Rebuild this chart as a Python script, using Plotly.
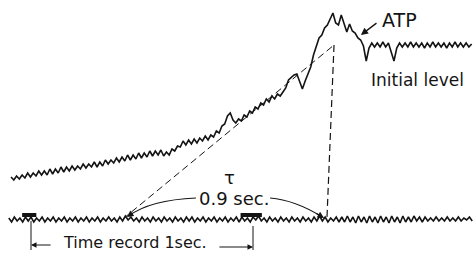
import numpy as np
import plotly.graph_objects as go

# ---- data (time in seconds, signal in arbitrary units) ----
DT = 0.0125
UPPER_T0 = -0.09
upper_signal = [
    82, 79, 83, 80, 84, 81, 86, 82, 86, 83,
    88, 84, 88, 84, 90, 85, 90, 86, 92, 87,
    92, 88, 93, 89, 93, 90, 95, 91, 95, 92,
    97, 92, 97, 93, 99, 95, 99, 96, 101, 97,
    102, 98, 104, 99, 104, 100, 106, 101, 106, 102,
    108, 103, 108, 104, 109, 103, 107, 104, 110, 108,
    113, 112, 118, 114, 119, 115, 120, 116, 121, 118,
    123, 119, 124, 122, 128, 126, 133, 135, 143, 146,
    139, 136, 140, 138, 144, 142, 148, 146, 152, 150,
    156, 154, 160, 157, 163, 160, 165, 163, 167, 171,
    179, 182, 184, 185, 177, 170, 178, 186, 192, 204,
    212, 221, 224, 231, 234, 241, 246, 236, 234, 244,
    236, 227, 235, 228, 226, 221, 219, 213, 198, 211,
    216, 212, 216, 212, 217, 212, 216, 208, 198, 211,
    216, 212, 216, 212, 217, 212, 216, 212, 216, 211,
    216, 212, 217, 212, 216, 212, 216, 211, 216, 212,
    217, 212, 216, 212, 216, 212, 215,
]

LOWER_T0 = -0.10
lower_signal = [
    41, 37, 42, 38, 41, 37, 42, 38, 42, 37,
    41, 38, 42, 37, 41, 38, 42, 37, 41, 38,
    42, 37, 41, 38, 42, 37, 41, 38, 42, 37,
    41, 38, 42, 37, 41, 38, 42, 38, 41, 37,
    42, 38, 43, 39, 42, 38, 41, 37, 42, 38,
    41, 37, 42, 38, 41, 37, 42, 38, 41, 37,
    42, 38, 41, 37, 42, 38, 42, 37, 41, 38,
    42, 37, 41, 38, 42, 37, 41, 38, 42, 37,
    41, 38, 42, 37, 42, 38, 41, 37, 42, 39,
    43, 38, 41, 37, 42, 38, 41, 37, 42, 38,
    41, 37, 42, 38, 41, 37, 42, 38, 41, 37,
    42, 38, 43, 38, 42, 37, 41, 38, 42, 37,
    42, 37, 43, 37, 42, 36, 43, 37, 42, 36,
    43, 37, 42, 36, 43, 37, 42, 36, 43, 37,
    42, 36, 43, 37, 42, 37, 43, 38, 42, 37,
    42, 38, 41, 38, 42, 38, 41, 38, 42, 38,
    41, 38, 42, 38, 41, 39, 42, 38,
]

time_marks = [0.0, 1.0]          # time record, 1 sec apart
mark_bar_halfwidth = [0.032, 0.048]
onset_t = 0.414                  # start of rise
end_t = 1.333                    # return point (tau = 0.9 sec)
apex_t = 1.365
baseline_level = 40
initial_level = 214

upper_t = UPPER_T0 + DT * np.arange(len(upper_signal))
lower_t = LOWER_T0 + DT * np.arange(len(lower_signal))

INK = "#141414"
fig = go.Figure()
fig.add_trace(go.Scatter(x=upper_t, y=upper_signal, mode="lines",
                         line=dict(color=INK, width=1.6), hoverinfo="skip"))
fig.add_trace(go.Scatter(x=lower_t, y=lower_signal, mode="lines",
                         line=dict(color=INK, width=1.6), hoverinfo="skip"))

shapes = []
# dashed construction lines
shapes.append(dict(type="line", xref="x", yref="y", x0=onset_t, y0=baseline_level,
                   x1=apex_t, y1=initial_level, line=dict(color=INK, width=1, dash="7px,4px")))
shapes.append(dict(type="line", xref="x", yref="y", x0=apex_t, y0=initial_level,
                   x1=end_t, y1=baseline_level, line=dict(color=INK, width=1.2, dash="7px,4px")))
# time-marker bars
for tm, hw in zip(time_marks, mark_bar_halfwidth):
    shapes.append(dict(type="rect", xref="x", yref="y", x0=tm - hw - 0.008, x1=tm + hw - 0.008,
                       y0=42, y1=46, fillcolor=INK, line=dict(width=0)))
# ticks under time marks
shapes.append(dict(type="line", xref="x", yref="y", x0=0.0, x1=0.0, y0=38, y1=9,
                   line=dict(color=INK, width=1)))
shapes.append(dict(type="line", xref="x", yref="y", x0=1.0, x1=1.0, y0=33, y1=9,
                   line=dict(color=INK, width=1)))
# curved arrows towards tau points
shapes.append(dict(type="path", xref="x", yref="y",
                   path="M 0.743 61 Q 0.536 59 0.440 43", line=dict(color=INK, width=1.2)))
shapes.append(dict(type="path", xref="x", yref="y",
                   path="M 1.077 61 Q 1.189 59 1.312 42", line=dict(color=INK, width=1.2)))

ann = []
def arrow(x, y, ax, ay, w=1.2):
    ann.append(dict(x=x, y=y, ax=ax, ay=ay, xref="x", yref="y", axref="x", ayref="y",
                    text="", showarrow=True, arrowhead=2, arrowsize=1.1, arrowwidth=w,
                    arrowcolor=INK, standoff=0, startstandoff=0))

arrow(0.432, 42, 0.464, 47)
arrow(1.320, 41, 1.279, 46.5)
arrow(1.486, 224, 1.563, 237, 1.3)
arrow(0.0, 14, 0.095, 14, 1)
arrow(1.0, 12, 0.842, 12, 1)

font = "DejaVu Sans"
def label(text, x, y, size, anchor="center"):
    ann.append(dict(x=x, y=y, xref="x", yref="y", text=text, showarrow=False,
                    font=dict(family=font, size=size, color=INK),
                    xanchor=anchor, yanchor="middle", borderpad=0))

label("ATP", 1.662, 239, 19)
label("Initial level", 1.955, 179, 17, "right")
label("τ", 0.892, 82, 18)
label("0.9 sec.", 0.914, 61, 18)
label("Time record 1sec.", 0.468, 17, 16)

fig.update_layout(
    width=473, height=259,
    margin=dict(l=0, r=0, t=0, b=0, pad=0),
    paper_bgcolor="white", plot_bgcolor="white",
    showlegend=False,
    shapes=shapes, annotations=ann,
    xaxis=dict(visible=False, range=[-0.13964, 1.99099], fixedrange=True),
    yaxis=dict(visible=False, range=[0, 259], fixedrange=True),
)
fig.write_html("out.html", config={"displayModeBar": False, "staticPlot": True},
               post_script="document.body.style.margin='0';document.body.style.overflow='hidden';")
